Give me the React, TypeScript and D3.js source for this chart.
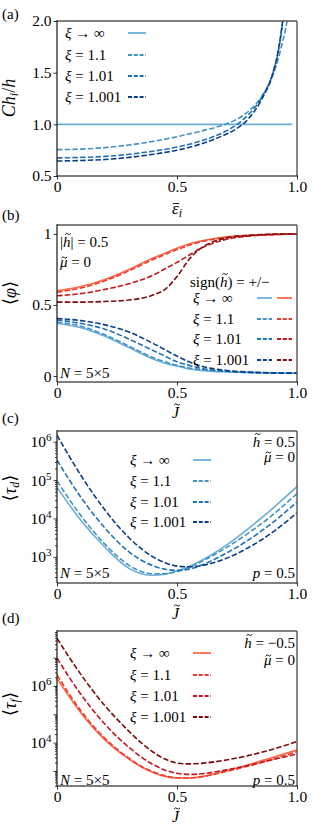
import React, { useEffect, useLayoutEffect, useRef, useState } from 'react';
import * as d3 from 'd3';

const FONT = "'Liberation Serif', 'DejaVu Serif', serif";

const XI_LABELS = ['\u221e', '1.1', '1.01', '1.001'];
const BLUES = ['#6baed6', '#4292c6', '#2171b5', '#0a3f86'];
const REDS = ['#fb6a4a', '#ee3b2b', '#c4161c', '#7a0b0e'];

// (a) C h_i / h vs eps_i
const EPS = [0, 0.1, 0.2, 0.3, 0.4, 0.5, 0.6, 0.7, 0.75, 0.8, 0.85, 0.9, 0.92, 0.94, 0.96, 0.98];
const CH_INF = [1, 1, 1, 1, 1, 1, 1, 1, 1, 1, 1, 1, 1, 1, 1, 1];
const CH_11 = [0.755, 0.76, 0.775, 0.8, 0.835, 0.88, 0.935, 1.0, 1.05, 1.13, 1.26, 1.48, 1.62, 1.8, 2.02, 2.4];
const CH_101 = [0.675, 0.68, 0.69, 0.71, 0.74, 0.78, 0.84, 0.93, 1.0, 1.1, 1.25, 1.5, 1.68, 1.98, 2.4, 3.0];
const CH_1001 = [0.645, 0.65, 0.66, 0.68, 0.71, 0.75, 0.81, 0.9, 0.96, 1.06, 1.23, 1.5, 1.69, 2.0, 2.45, 3.0];

// (b) <phi> vs J
const JB = [0, 0.1, 0.2, 0.3, 0.4, 0.45, 0.5, 0.55, 0.6, 0.65, 0.7, 0.8, 0.9, 1.0];
const PHI_RED_INF = [0.6, 0.63, 0.68, 0.75, 0.83, 0.865, 0.9, 0.93, 0.95, 0.966, 0.978, 0.99, 0.997, 1.0];
const PHI_RED_11 = [0.59, 0.62, 0.67, 0.74, 0.82, 0.855, 0.89, 0.92, 0.945, 0.962, 0.975, 0.99, 0.997, 1.0];
const PHI_RED_101 = [0.565, 0.58, 0.61, 0.65, 0.71, 0.755, 0.8, 0.85, 0.9, 0.935, 0.96, 0.985, 0.995, 1.0];
const PHI_RED_1001 = [0.52, 0.52, 0.525, 0.535, 0.57, 0.61, 0.7, 0.82, 0.9, 0.945, 0.97, 0.99, 0.998, 1.0];
const PHI_BLUE_INF = [0.37, 0.34, 0.28, 0.2, 0.12, 0.09, 0.07, 0.05, 0.04, 0.033, 0.03, 0.025, 0.022, 0.02];
const PHI_BLUE_11 = [0.38, 0.35, 0.29, 0.21, 0.13, 0.1, 0.075, 0.057, 0.045, 0.037, 0.032, 0.025, 0.022, 0.02];
const PHI_BLUE_101 = [0.395, 0.37, 0.33, 0.26, 0.18, 0.14, 0.1, 0.075, 0.055, 0.043, 0.035, 0.025, 0.022, 0.02];
const PHI_BLUE_1001 = [0.405, 0.39, 0.36, 0.31, 0.23, 0.185, 0.14, 0.1, 0.07, 0.052, 0.04, 0.028, 0.022, 0.02];

// (c), (d) log10 of <tau> vs J
const JL = [0, 0.1, 0.2, 0.3, 0.35, 0.4, 0.45, 0.5, 0.55, 0.6, 0.7, 0.8, 0.9, 1.0];
const TD_INF = [4.81, 3.95, 3.25, 2.7, 2.56, 2.52, 2.55, 2.63, 2.75, 2.9, 3.28, 3.75, 4.27, 4.83];
const TD_11 = [4.98, 4.07, 3.33, 2.78, 2.62, 2.56, 2.56, 2.62, 2.72, 2.87, 3.22, 3.63, 4.1, 4.65];
const TD_101 = [5.52, 4.55, 3.75, 3.13, 2.92, 2.77, 2.68, 2.65, 2.68, 2.78, 3.08, 3.45, 3.9, 4.43];
const TD_1001 = [6.17, 5.12, 4.22, 3.5, 3.22, 3.0, 2.85, 2.76, 2.74, 2.77, 2.95, 3.25, 3.65, 4.15];
const TF_INF = [6.27, 5.05, 4.1, 3.42, 3.15, 2.95, 2.81, 2.75, 2.75, 2.8, 3.0, 3.23, 3.48, 3.74];
const TF_11 = [6.39, 5.12, 4.15, 3.45, 3.17, 2.97, 2.83, 2.76, 2.75, 2.79, 2.97, 3.18, 3.42, 3.68];
const TF_101 = [6.98, 5.7, 4.65, 3.83, 3.5, 3.23, 3.03, 2.92, 2.88, 2.9, 3.03, 3.2, 3.4, 3.6];
const TF_1001 = [7.68, 6.4, 5.3, 4.4, 4.0, 3.67, 3.42, 3.28, 3.25, 3.27, 3.38, 3.55, 3.77, 4.04];

const LEFT = 57;
const RIGHT = 297;
const DASH = '5.5,2.2';
const FS = 15;

type Series = { xs: number[]; ys: number[]; color: string; dashed: boolean };

const zip = (xs: number[], ys: number[]) => xs.map((x, i) => [x, ys[i]] as [number, number]);

function YAxis({ scale, ticks, labels, minor, sup }: any) {
  const ref = useRef<SVGGElement>(null);
  useEffect(() => {
    const g = d3.select(ref.current);
    g.selectAll('*').remove();
    if (minor) {
      g.append('g').call(d3.axisLeft(scale).tickValues(minor).tickFormat(() => '').tickSizeInner(2).tickSizeOuter(0))
        .call(s => s.select('.domain').remove());
    }
    const ax = d3.axisLeft(scale).tickValues(ticks).tickFormat((d: any, i: number) => labels[i] ?? '')
      .tickSizeInner(3.5).tickSizeOuter(0).tickPadding(2);
    const a = g.append('g').call(ax);
    a.select('.domain').remove();
    a.selectAll('text').attr('font-family', FONT).attr('font-size', FS + 0.5).attr('fill', '#000');
    if (sup) {
      a.selectAll('.tick text').each(function (d: any, i: number) {
        const t = d3.select(this);
        const lab = labels[i];
        t.text('');
        if (!lab) return;
        t.append('tspan').text('10');
        t.append('tspan').attr('dy', -6).attr('font-size', 11).text(lab);
      });
    }
    g.selectAll('line').attr('stroke', '#000').attr('stroke-width', 0.8);
  }, []);
  return <g ref={ref} transform={`translate(${LEFT},0)`} />;
}

function XAxis({ scale, y }: any) {
  const ref = useRef<SVGGElement>(null);
  useEffect(() => {
    const g = d3.select(ref.current);
    g.selectAll('*').remove();
    const labs = ['0', '0.5', '1.0'];
    g.call(d3.axisBottom(scale).tickValues([0, 0.5, 1]).tickFormat((d: any, i: number) => labs[i])
      .tickSizeInner(3.5).tickSizeOuter(0).tickPadding(1));
    g.select('.domain').remove();
    g.selectAll('line').attr('stroke', '#000').attr('stroke-width', 0.8);
    g.selectAll('text').attr('font-family', FONT).attr('font-size', FS + 0.5).attr('fill', '#000');
  }, []);
  return <g ref={ref} transform={`translate(0,${y})`} />;
}

function Xi({ x, y, i }: { x: number; y: number; i: number }) {
  return (
    <text x={x} y={y} fontFamily={FONT} fontSize={FS} xmlSpace="preserve">
      <tspan fontStyle="italic">ξ</tspan>
      {i === 0 ? ' \u2192 \u221e' : ` = ${XI_LABELS[i]}`}
    </text>
  );
}

function Sample({ x1, x2, y, color, dashed }: any) {
  return <line x1={x1} x2={x2} y1={y} y2={y} stroke={color} strokeWidth={1.8} strokeDasharray={dashed ? '4,1.8' : undefined} />;
}

function Frame({ top, bottom }: { top: number; bottom: number }) {
  return (
    <g fill="none">
      <line x1={LEFT} x2={RIGHT} y1={top} y2={top} stroke="#555" strokeWidth={1.4} />
      <line x1={RIGHT} x2={RIGHT} y1={top} y2={bottom} stroke="#555" strokeWidth={1.4} />
      <line x1={LEFT} x2={LEFT} y1={top - 0.7} y2={bottom} stroke="#000" strokeWidth={1.1} />
      <line x1={LEFT} x2={RIGHT + 0.7} y1={bottom} y2={bottom} stroke="#000" strokeWidth={1.1} />
    </g>
  );
}

function Curves({ id, series, x, y, top, bottom }: any) {
  const line = d3.line<[number, number]>().x(d => x(d[0])).y(d => y(d[1])).curve(d3.curveMonotoneX);
  return (
    <g>
      <clipPath id={id}><rect x={LEFT} y={top} width={RIGHT - LEFT} height={bottom - top} /></clipPath>
      <g clipPath={`url(#${id})`}>
        {series.map((s: Series, i: number) => (
          <path key={i} d={line(zip(s.xs, s.ys)) || ''} fill="none" stroke={s.color} strokeWidth={1.6}
            strokeDasharray={s.dashed ? DASH : undefined} />
        ))}
      </g>
    </g>
  );
}

const I = (props: any) => <tspan fontStyle="italic" {...props} />;

// text with a tilde / bar drawn as a path over one character
function AText({ x, y, anchor, size = FS, at = 0, kind = 'tilde', lift, skew = 1, children }: any) {
  const ref = useRef<SVGTextElement>(null);
  const [pos, setPos] = useState<number | null>(null);
  useLayoutEffect(() => {
    const t = ref.current;
    if (!t) return;
    try {
      const a = t.getStartPositionOfChar(at).x;
      const b = t.getEndPositionOfChar(at).x;
      setPos((a + b) / 2 + skew);
    } catch (e) { /* ignore */ }
  }, []);
  const ay = y - lift;
  let mark = null;
  if (pos !== null) {
    const w = size * 0.19;
    mark = kind === 'tilde'
      ? <path d={`M${pos - w},${ay + 0.7} Q${pos - w / 2},${ay - 1.6} ${pos},${ay} T${pos + w},${ay - 0.7}`} fill="none" stroke="#000" strokeWidth={0.9} />
      : <line x1={pos - w} x2={pos + w} y1={ay} y2={ay} stroke="#000" strokeWidth={0.9} />;
  }
  return (
    <g>
      <text ref={ref} x={x} y={y} textAnchor={anchor} fontFamily={FONT} fontSize={size} xmlSpace="preserve">{children}</text>
      {mark}
    </g>
  );
}

const T = (props: any) => <text fontFamily={FONT} fontSize={FS} xmlSpace="preserve" {...props} />;

export default function App() {
  const x = d3.scaleLinear().domain([0, 1]).range([LEFT, RIGHT]);

  // (a)
  const aTop = 21, aBot = 176;
  const ya = d3.scaleLinear().domain([0.5, 2.0]).range([aBot, aTop]);
  const seriesA: Series[] = [
    { xs: EPS, ys: CH_INF, color: BLUES[0], dashed: false },
    { xs: EPS, ys: CH_11, color: BLUES[1], dashed: true },
    { xs: EPS, ys: CH_101, color: BLUES[2], dashed: true },
    { xs: EPS, ys: CH_1001, color: BLUES[3], dashed: true },
  ];

  // (b)
  const bTop = 225, bBot = 382;
  const yb = d3.scaleLinear().domain([-0.042, 1.063]).range([bBot, bTop]);
  const seriesB: Series[] = [
    { xs: JB, ys: PHI_BLUE_INF, color: BLUES[0], dashed: false },
    { xs: JB, ys: PHI_BLUE_11, color: BLUES[1], dashed: true },
    { xs: JB, ys: PHI_BLUE_101, color: BLUES[2], dashed: true },
    { xs: JB, ys: PHI_BLUE_1001, color: BLUES[3], dashed: true },
    { xs: JB, ys: PHI_RED_INF, color: REDS[0], dashed: false },
    { xs: JB, ys: PHI_RED_11, color: REDS[1], dashed: true },
    { xs: JB, ys: PHI_RED_101, color: REDS[2], dashed: true },
    { xs: JB, ys: PHI_RED_1001, color: REDS[3], dashed: true },
  ];

  // (c)
  const cTop = 431, cBot = 583;
  const yc = d3.scaleLog().domain([10 ** 2.32, 10 ** 6.28]).range([cBot, cTop]);
  const pow = (a: number[]) => a.map(v => 10 ** v);
  const seriesC: Series[] = [
    { xs: JL, ys: pow(TD_INF), color: BLUES[0], dashed: false },
    { xs: JL, ys: pow(TD_11), color: BLUES[1], dashed: true },
    { xs: JL, ys: pow(TD_101), color: BLUES[2], dashed: true },
    { xs: JL, ys: pow(TD_1001), color: BLUES[3], dashed: true },
  ];

  // (d)
  const dTop = 631, dBot = 786;
  const yd = d3.scaleLog().domain([10 ** 2.47, 10 ** 7.94]).range([dBot, dTop]);
  const seriesD: Series[] = [
    { xs: JL, ys: pow(TF_INF), color: REDS[0], dashed: false },
    { xs: JL, ys: pow(TF_11), color: REDS[1], dashed: true },
    { xs: JL, ys: pow(TF_101), color: REDS[2], dashed: true },
    { xs: JL, ys: pow(TF_1001), color: REDS[3], dashed: true },
  ];

  const minorLog = (lo: number, hi: number, dom: number[]) => {
    const out: number[] = [];
    for (let e = lo; e <= hi; e++) for (let k = 2; k <= 9; k++) out.push(k * 10 ** e);
    return out.filter(v => v >= dom[0] && v <= dom[1]);
  };

  const legendRowsA = [33, 55, 76, 97];
  const legendRowsB = [298, 319, 339, 360];
  const legendRowsC = [460, 481, 502, 522];
  const legendRowsD = [653, 675, 696, 717];

  return (
    <svg width={312} height={830} style={{ position: 'absolute', left: 0, top: 0, background: '#fff', fontFamily: FONT }}>
      {/* panel (a) */}
      <T x={2} y={19}>(a)</T>
      <Curves id="ca" series={seriesA} x={x} y={ya} top={aTop} bottom={aBot} />
      <Frame top={aTop} bottom={aBot} />
      <YAxis scale={ya} ticks={[0.5, 1.0, 1.5, 2.0]} labels={['0.5', '1.0', '1.5', '2.0']} />
      <XAxis scale={x} y={aBot} />
      {legendRowsA.map((yy, i) => (
        <g key={i}>
          <Xi x={65} y={yy + 5} i={i} />
          <Sample x1={128} x2={146} y={yy} color={BLUES[i]} dashed={i > 0} />
        </g>
      ))}
      <text transform="translate(15,98) rotate(-90)" textAnchor="middle" fontFamily={FONT} fontSize={18}>
        <I>C</I><I>h</I><I fontSize={12} dy={3}>i</I><tspan dy={-3}>/</tspan><I>h</I>
      </text>
      <AText x={172} y={214} size={17} kind="bar" lift={10.5} skew={0.8}>
        <I>ε</I><I fontSize={12} dy={3}>i</I>
      </AText>

      {/* panel (b) */}
      <T x={2} y={220}>(b)</T>
      <Curves id="cb" series={seriesB} x={x} y={yb} top={bTop} bottom={bBot} />
      <Frame top={bTop} bottom={bBot} />
      <YAxis scale={yb} ticks={[0, 0.5, 1]} labels={['0', '0.5', '1']} />
      <XAxis scale={x} y={bBot} />
      <AText x={60} y={247} at={1} lift={13} skew={1.2}>|<I>h</I>| = 0.5</AText>
      <AText x={60} y={267} at={0} lift={9.5} skew={0.6}><I>μ</I> = 0</AText>
      <T x={60} y={378}><I>N</I> = 5×5</T>
      <AText x={190} y={287} at={5} lift={13} skew={1.2}>sign(<I>h</I>) = +/−</AText>
      {legendRowsB.map((yy, i) => (
        <g key={i}>
          <Xi x={193} y={yy + 5} i={i} />
          <Sample x1={257} x2={272} y={yy} color={BLUES[i]} dashed={i > 0} />
          <Sample x1={277} x2={292} y={yy} color={REDS[i]} dashed={i > 0} />
        </g>
      ))}
      <text transform="translate(16,293) rotate(-90)" textAnchor="middle" fontFamily={FONT} fontSize={18}>
        ⟨<I>φ</I>⟩
      </text>
      <AText x={172} y={418} size={16} lift={13.5} skew={1.5}><I>J</I></AText>

      {/* panel (c) */}
      <T x={2} y={423}>(c)</T>
      <Curves id="cc" series={seriesC} x={x} y={yc} top={cTop} bottom={cBot} />
      <Frame top={cTop} bottom={cBot} />
      <YAxis scale={yc} ticks={[1e3, 1e4, 1e5, 1e6]} labels={['3', '4', '5', '6']} minor={minorLog(2, 6, yc.domain())} sup />
      <XAxis scale={x} y={cBot} />
      <AText x={295} y={447} anchor="end" lift={13} skew={1.2}><I>h</I> = 0.5</AText>
      <AText x={295} y={462} anchor="end" lift={9.5} skew={0.6}><I>μ</I> = 0</AText>
      <T x={60} y={578}><I>N</I> = 5×5</T>
      <T x={295} y={578} textAnchor="end"><I>p</I> = 0.5</T>
      {legendRowsC.map((yy, i) => (
        <g key={i}>
          <Xi x={130} y={yy + 5} i={i} />
          <Sample x1={193} x2={211} y={yy} color={BLUES[i]} dashed={i > 0} />
        </g>
      ))}
      <text transform="translate(16,488) rotate(-90)" textAnchor="middle" fontFamily={FONT} fontSize={18}>
        ⟨<I>τ</I><I fontSize={12} dy={3}>d</I><tspan dy={-3}>⟩</tspan>
      </text>
      <AText x={172} y={619} size={16} lift={13.5} skew={1.5}><I>J</I></AText>

      {/* panel (d) */}
      <T x={2} y={623}>(d)</T>
      <Curves id="cd" series={seriesD} x={x} y={yd} top={dTop} bottom={dBot} />
      <Frame top={dTop} bottom={dBot} />
      <YAxis scale={yd} ticks={[1e3, 1e4, 1e5, 1e6, 1e7]} labels={['', '4', '', '6', '']} minor={minorLog(2, 7, yd.domain())} sup />
      <XAxis scale={x} y={dBot} />
      <AText x={295} y={648} anchor="end" lift={13} skew={1.2}><I>h</I> = −0.5</AText>
      <AText x={295} y={665} anchor="end" lift={9.5} skew={0.6}><I>μ</I> = 0</AText>
      <T x={60} y={785}><I>N</I> = 5×5</T>
      <T x={295} y={785} textAnchor="end"><I>p</I> = 0.5</T>
      {legendRowsD.map((yy, i) => (
        <g key={i}>
          <Xi x={130} y={yy + 5} i={i} />
          <Sample x1={193} x2={211} y={yy} color={REDS[i]} dashed={i > 0} />
        </g>
      ))}
      <text transform="translate(16,704) rotate(-90)" textAnchor="middle" fontFamily={FONT} fontSize={18}>
        ⟨<I>τ</I><I fontSize={12} dy={3}>f</I><tspan dy={-3}>⟩</tspan>
      </text>
      <AText x={172} y={822} size={16} lift={13.5} skew={1.5}><I>J</I></AText>
    </svg>
  );
}
